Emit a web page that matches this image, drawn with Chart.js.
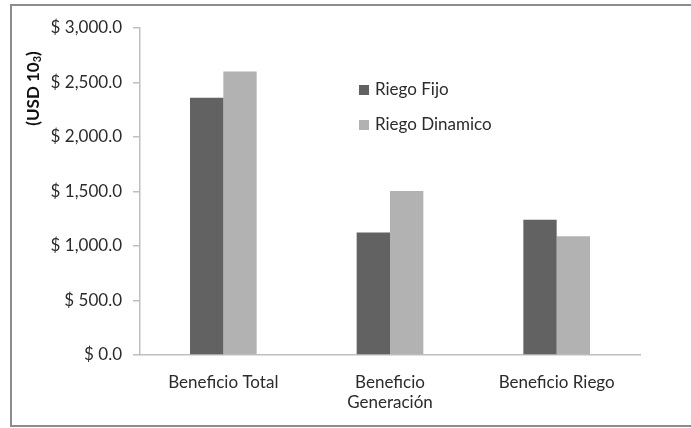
<!DOCTYPE html>
<html>
<head>
<meta charset="utf-8">
<script src="https://cdn.jsdelivr.net/npm/chart.js@4.4.1/dist/chart.umd.min.js"></script>
<style>
  html, body { margin: 0; padding: 0; background: #ffffff; }
  #wrap { position: relative; width: 691px; height: 428px; }
</style>
</head>
<body>
<div id="wrap"><canvas id="chart" width="691" height="428"></canvas></div>
<script>
// Categories and series values (USD thousands)
const categories = ['Beneficio Total', ['Beneficio', 'Generación'], 'Beneficio Riego'];
const seriesNames = ['Riego Fijo', 'Riego Dinamico'];
const riegoFijo = [2360, 1125, 1240];
const riegoDinamico = [2600, 1505, 1090];
const seriesColors = ['#626262', '#b2b2b2'];
const yMin = 0;
const yMax = 3000;
const yStep = 500;
const yTitleMain = '(USD 10';
const yTitleSub = '3';
const yTitleEnd = ')';

const FONT = 'Lato, "Open Sans", sans-serif';
const TEXT = '#2b2b2b';
const AXIS = '#bfbfbf';

function money(v) {
  return '$ ' + Number(v).toLocaleString('en-US', { minimumFractionDigits: 1, maximumFractionDigits: 1 });
}

// Outer frame around the whole chart
const framePlugin = {
  id: 'frame',
  beforeDraw(chart) {
    const ctx = chart.ctx;
    ctx.save();
    ctx.fillStyle = '#ffffff';
    ctx.fillRect(0, 0, chart.width, chart.height);
    ctx.strokeStyle = '#8c8c8c';
    ctx.lineWidth = 2;
    ctx.strokeRect(11, 5, chart.width + 20, 421);
    ctx.restore();
  }
};

// Rotated bold y-axis caption with a subscript digit
const yCaptionPlugin = {
  id: 'yCaption',
  afterDraw(chart) {
    const ctx = chart.ctx;
    ctx.save();
    ctx.translate(39, 88.5);
    ctx.rotate(-Math.PI / 2);
    ctx.fillStyle = '#111111';
    ctx.textBaseline = 'alphabetic';
    const big = 'bold 17px ' + FONT;
    const small = 'bold 11px ' + FONT;
    ctx.font = big;
    const w1 = ctx.measureText(yTitleMain).width;
    const w3 = ctx.measureText(yTitleEnd).width;
    ctx.font = small;
    const w2 = ctx.measureText(yTitleSub).width;
    let x = -(w1 + w2 + w3) / 2;
    ctx.font = big;
    ctx.fillText(yTitleMain, x, 0);
    x += w1;
    ctx.font = small;
    ctx.fillText(yTitleSub, x, 2);
    x += w2;
    ctx.font = big;
    ctx.fillText(yTitleEnd, x, 0);
    ctx.restore();
  }
};

// Legend drawn inside the plot area
const innerLegendPlugin = {
  id: 'innerLegend',
  afterDraw(chart) {
    const ctx = chart.ctx;
    ctx.save();
    ctx.font = '17px ' + FONT;
    ctx.textBaseline = 'middle';
    ctx.textAlign = 'left';
    chart.data.datasets.forEach((ds, i) => {
      const cy = 90 + i * 35;
      ctx.fillStyle = ds.backgroundColor;
      ctx.fillRect(359, cy - 5, 10, 10);
      ctx.fillStyle = TEXT;
      ctx.fillText(ds.label, 375, cy);
    });
    ctx.restore();
  }
};

new Chart(document.getElementById('chart'), {
  type: 'bar',
  data: {
    labels: categories,
    datasets: [
      { label: seriesNames[0], data: riegoFijo, backgroundColor: seriesColors[0] },
      { label: seriesNames[1], data: riegoDinamico, backgroundColor: seriesColors[1] }
    ]
  },
  options: {
    responsive: false,
    animation: false,
    devicePixelRatio: 1,
    categoryPercentage: 0.4,
    barPercentage: 1.0,
    layout: { padding: { left: 0, right: 51, top: 28, bottom: 0 } },
    plugins: {
      legend: { display: false },
      tooltip: { enabled: false },
      title: { display: false }
    },
    scales: {
      x: {
        grid: { display: false, drawTicks: false },
        border: { display: true, color: AXIS, width: 1.5 },
        ticks: {
          color: TEXT,
          font: { family: FONT, size: 17 },
          padding: 17,
          maxRotation: 0,
          autoSkip: false
        },
        afterFit(scale) { scale.height = 73; }
      },
      y: {
        min: yMin,
        max: yMax,
        grid: {
          drawOnChartArea: false,
          drawTicks: true,
          tickLength: 7,
          color: AXIS,
          lineWidth: 1.5
        },
        border: { display: true, color: AXIS, width: 1.5 },
        ticks: {
          stepSize: yStep,
          color: TEXT,
          font: { family: FONT, size: 17 },
          padding: 11,
          callback: (v) => money(v)
        },
        afterFit(scale) { scale.width = 140; }
      }
    }
  },
  plugins: [framePlugin, yCaptionPlugin, innerLegendPlugin]
});
</script>
</body>
</html>
